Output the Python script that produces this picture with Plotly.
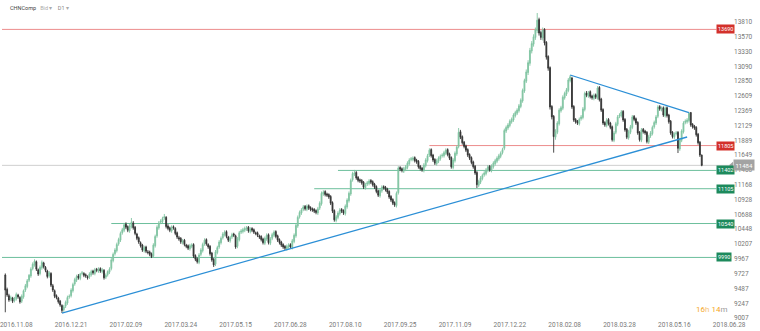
import plotly.graph_objects as go

# --- daily OHLC, CHNComp (D1) ---
opens = [
    9705, 9470, 9370, 9310, 9330, 9290, 9320, 9380, 9340, 9280,
    9350, 9460, 9520, 9620, 9690, 9810, 9870, 9920, 9790, 9730,
    9820, 9900, 9830, 9770, 9690, 9730, 9530, 9450, 9370, 9330,
    9280, 9210, 9140, 9200, 9250, 9350, 9370, 9450, 9560, 9620,
    9690, 9650, 9730, 9730, 9710, 9680, 9670, 9710, 9770, 9730,
    9800, 9770, 9810, 9760, 9780, 9670, 9710, 9750, 9810, 9940,
    10050, 10100, 10210, 10270, 10390, 10430, 10530, 10490, 10420, 10490,
    10550, 10480, 10370, 10310, 10230, 10190, 10100, 10160, 10080, 10080,
    10050, 10010, 10180, 10340, 10470, 10560, 10570, 10630, 10640, 10500,
    10470, 10420, 10490, 10460, 10390, 10310, 10300, 10230, 10270, 10190,
    10180, 10130, 10170, 10200, 10020, 9970, 9910, 10040, 10100, 10210,
    10280, 10200, 10170, 10060, 9960, 9880, 10070, 10160, 10230, 10310,
    10360, 10410, 10320, 10260, 10320, 10370, 10340, 10170, 10280, 10400,
    10410, 10430, 10450, 10480, 10410, 10460, 10440, 10390, 10390, 10340,
    10330, 10290, 10220, 10290, 10360, 10220, 10300, 10350, 10410, 10340,
    10280, 10240, 10200, 10170, 10130, 10160, 10200, 10150, 10250, 10340,
    10500, 10650, 10710, 10770, 10820, 10770, 10830, 10800, 10780, 10770,
    10750, 10710, 10790, 10860, 11020, 11060, 11020, 11010, 10980, 10880,
    10750, 10590, 10640, 10700, 10770, 10750, 10700, 10810, 10910, 11020,
    11250, 11340, 11370, 11290, 11250, 11240, 11210, 11120, 11180, 11190,
    11240, 11220, 11180, 11140, 11070, 10990, 11070, 11140, 11130, 11100,
    11060, 10980, 10930, 10880, 10830, 11040, 11450, 11430, 11390, 11420,
    11450, 11510, 11580, 11580, 11610, 11570, 11550, 11470, 11440, 11400,
    11480, 11560, 11650, 11740, 11650, 11580, 11510, 11550, 11590, 11640,
    11640, 11680, 11740, 11670, 11610, 11450, 11560, 11670, 11790, 12030,
    11950, 11860, 11800, 11740, 11660, 11610, 11540, 11470, 11370, 11160,
    11210, 11270, 11330, 11350, 11400, 11470, 11400, 11460, 11510, 11550,
    11590, 11630, 11690, 11760, 12040, 12090, 12130, 12190, 12220, 12290,
    12330, 12370, 12440, 12530, 12690, 12850, 12990, 13140, 13340, 13450,
    13560, 13670, 13850, 13640, 13550, 13690, 13480, 13250, 13070, 12440,
    12280, 11940, 12020, 12160, 12370, 12410, 12580, 12640, 12700, 12860,
    12900, 12440, 12230, 12200, 12160, 12240, 12260, 12390, 12660, 12610,
    12680, 12610, 12570, 12630, 12580, 12750, 12560, 12390, 12180, 12130,
    12230, 12170, 12110, 11890, 12020, 12150, 12280, 12290, 12360, 12230,
    12070, 11930, 12020, 12100, 12280, 12240, 12180, 12020, 11890, 12070,
    12040, 12020, 11860, 11960, 12000, 12110, 12170, 12280, 12440, 12390,
    12420, 12290, 12420, 12300, 12200, 12020, 11940, 12000, 12020, 11750,
    11890, 12030, 12180, 12190, 12210, 12340, 12150, 12120, 12100, 11990,
    11860, 11650,
]
highs = [
    9730, 9500, 9400, 9370, 9350, 9350, 9420, 9400, 9360, 9390,
    9470, 9560, 9640, 9720, 9830, 9910, 9960, 9940, 9810, 9860,
    9940, 9920, 9850, 9790, 9770, 9750, 9560, 9470, 9390, 9350,
    9300, 9230, 9220, 9290, 9370, 9390, 9490, 9580, 9660, 9710,
    9720, 9740, 9770, 9750, 9730, 9700, 9750, 9790, 9790, 9820,
    9820, 9830, 9830, 9820, 9800, 9730, 9780, 9830, 9980, 10070,
    10140, 10230, 10310, 10410, 10470, 10550, 10560, 10510, 10530, 10630,
    10580, 10500, 10390, 10330, 10250, 10210, 10180, 10180, 10110, 10100,
    10070, 10220, 10360, 10510, 10580, 10610, 10650, 10695, 10660, 10530,
    10490, 10510, 10510, 10480, 10410, 10340, 10320, 10290, 10290, 10210,
    10200, 10210, 10220, 10220, 10040, 9990, 10060, 10140, 10230, 10300,
    10300, 10220, 10190, 10080, 9980, 10110, 10180, 10270, 10330, 10400,
    10430, 10430, 10340, 10340, 10390, 10390, 10360, 10320, 10420, 10450,
    10470, 10490, 10500, 10500, 10480, 10480, 10460, 10410, 10410, 10360,
    10350, 10310, 10330, 10380, 10380, 10320, 10390, 10430, 10430, 10360,
    10300, 10260, 10220, 10190, 10200, 10220, 10220, 10290, 10380, 10540,
    10670, 10750, 10790, 10840, 10840, 10850, 10850, 10820, 10800, 10790,
    10770, 10810, 10900, 11060, 11080, 11080, 11040, 11030, 11000, 10900,
    10770, 10680, 10740, 10790, 10790, 10770, 10850, 10950, 11060, 11270,
    11380, 11410, 11390, 11310, 11270, 11260, 11230, 11200, 11230, 11260,
    11260, 11240, 11200, 11160, 11090, 11110, 11160, 11160, 11150, 11120,
    11080, 11000, 10950, 10900, 11060, 11470, 11470, 11450, 11460, 11490,
    11550, 11600, 11620, 11630, 11630, 11590, 11570, 11490, 11460, 11520,
    11600, 11670, 11760, 11760, 11670, 11600, 11590, 11630, 11660, 11680,
    11720, 11760, 11760, 11690, 11630, 11600, 11710, 11810, 12090, 12060,
    11970, 11880, 11820, 11760, 11680, 11630, 11560, 11490, 11390, 11250,
    11310, 11350, 11390, 11440, 11490, 11490, 11500, 11550, 11590, 11630,
    11670, 11710, 11770, 12080, 12130, 12170, 12230, 12260, 12330, 12370,
    12410, 12480, 12570, 12730, 12890, 13040, 13190, 13390, 13500, 13610,
    13720, 13956, 13880, 13670, 13720, 13710, 13500, 13270, 13090, 12460,
    12300, 12070, 12200, 12410, 12450, 12620, 12680, 12740, 12900, 12950,
    12920, 12460, 12250, 12220, 12260, 12300, 12430, 12680, 12690, 12690,
    12700, 12630, 12650, 12650, 12770, 12770, 12580, 12410, 12200, 12250,
    12250, 12190, 12130, 12040, 12190, 12300, 12330, 12380, 12380, 12250,
    12090, 12060, 12140, 12300, 12300, 12260, 12200, 12040, 12090, 12090,
    12060, 12040, 11980, 12040, 12130, 12210, 12300, 12460, 12460, 12440,
    12440, 12440, 12440, 12320, 12220, 12040, 12020, 12040, 12040, 11930,
    12070, 12200, 12230, 12250, 12350, 12350, 12170, 12140, 12120, 12010,
    11880, 11660,
]
lows = [
    9100, 9350, 9270, 9280, 9250, 9260, 9290, 9320, 9240, 9250,
    9320, 9430, 9490, 9590, 9660, 9780, 9840, 9770, 9690, 9700,
    9790, 9810, 9750, 9650, 9660, 9510, 9430, 9330, 9310, 9240,
    9190, 9088, 9110, 9170, 9220, 9320, 9340, 9420, 9530, 9590,
    9630, 9620, 9700, 9670, 9660, 9630, 9640, 9680, 9710, 9700,
    9750, 9740, 9740, 9730, 9630, 9640, 9680, 9720, 9780, 9910,
    10020, 10070, 10180, 10240, 10360, 10400, 10450, 10400, 10390, 10460,
    10440, 10350, 10270, 10210, 10150, 10080, 10070, 10060, 10040, 10010,
    9980, 9990, 10150, 10310, 10440, 10530, 10540, 10600, 10460, 10430,
    10400, 10390, 10440, 10350, 10290, 10260, 10210, 10200, 10170, 10140,
    10110, 10100, 10140, 9980, 9930, 9890, 9880, 10010, 10070, 10180,
    10180, 10130, 10020, 9920, 9835, 9850, 10040, 10130, 10200, 10280,
    10330, 10300, 10240, 10230, 10290, 10320, 10130, 10140, 10250, 10370,
    10380, 10400, 10420, 10390, 10380, 10400, 10370, 10350, 10320, 10290,
    10250, 10200, 10190, 10260, 10200, 10190, 10270, 10320, 10300, 10240,
    10200, 10160, 10130, 10110, 10100, 10130, 10130, 10120, 10220, 10310,
    10470, 10620, 10680, 10740, 10750, 10740, 10760, 10740, 10730, 10710,
    10690, 10680, 10760, 10830, 10990, 10980, 10970, 10940, 10840, 10710,
    10570, 10560, 10610, 10670, 10710, 10680, 10670, 10780, 10880, 10990,
    11220, 11310, 11250, 11210, 11200, 11170, 11100, 11090, 11150, 11160,
    11180, 11140, 11100, 11030, 10970, 10960, 11040, 11090, 11060, 11020,
    10940, 10890, 10840, 10810, 10800, 11010, 11390, 11370, 11360, 11390,
    11420, 11480, 11550, 11550, 11530, 11510, 11430, 11400, 11380, 11370,
    11450, 11530, 11620, 11610, 11540, 11490, 11480, 11520, 11560, 11610,
    11610, 11650, 11630, 11570, 11430, 11420, 11530, 11640, 11760, 11910,
    11820, 11760, 11700, 11620, 11570, 11500, 11430, 11330, 11117, 11130,
    11180, 11240, 11300, 11320, 11370, 11380, 11370, 11430, 11480, 11520,
    11560, 11600, 11660, 11730, 12010, 12060, 12100, 12160, 12190, 12260,
    12300, 12340, 12410, 12500, 12660, 12820, 12950, 13100, 13300, 13410,
    13520, 13630, 13590, 13520, 13510, 13430, 13200, 13020, 12390, 12230,
    11690, 11900, 11990, 12130, 12340, 12380, 12550, 12610, 12670, 12830,
    12400, 12190, 12160, 12140, 12130, 12210, 12230, 12360, 12590, 12580,
    12570, 12550, 12540, 12560, 12550, 12520, 12350, 12140, 12110, 12100,
    12130, 12070, 11870, 11860, 11990, 12120, 12250, 12260, 12190, 12030,
    11910, 11900, 11990, 12070, 12200, 12140, 11980, 11870, 11860, 12000,
    11980, 11840, 11830, 11930, 11970, 12080, 12140, 12250, 12370, 12360,
    12270, 12260, 12260, 12160, 11980, 11920, 11910, 11970, 11684, 11720,
    11860, 12000, 12150, 12160, 12180, 12110, 12080, 12060, 11950, 11820,
    11620, 11470,
]
closes = [
    9460, 9380, 9300, 9340, 9280, 9320, 9390, 9350, 9270, 9360,
    9450, 9530, 9610, 9700, 9800, 9880, 9930, 9800, 9720, 9830,
    9910, 9840, 9780, 9680, 9740, 9540, 9460, 9360, 9340, 9270,
    9220, 9130, 9190, 9260, 9340, 9360, 9460, 9550, 9630, 9680,
    9660, 9720, 9740, 9700, 9690, 9660, 9720, 9760, 9740, 9790,
    9780, 9800, 9770, 9790, 9660, 9700, 9760, 9800, 9950, 10040,
    10110, 10200, 10280, 10380, 10440, 10520, 10480, 10430, 10500, 10560,
    10470, 10380, 10300, 10240, 10180, 10110, 10150, 10090, 10070, 10040,
    10000, 10190, 10330, 10480, 10550, 10580, 10620, 10650, 10490, 10460,
    10430, 10480, 10470, 10380, 10320, 10290, 10240, 10260, 10200, 10170,
    10140, 10180, 10190, 10010, 9960, 9920, 10030, 10110, 10200, 10270,
    10210, 10160, 10050, 9950, 9870, 10080, 10150, 10240, 10300, 10370,
    10400, 10330, 10270, 10310, 10360, 10350, 10160, 10290, 10390, 10420,
    10440, 10460, 10470, 10420, 10450, 10430, 10400, 10380, 10350, 10320,
    10280, 10230, 10300, 10350, 10230, 10290, 10360, 10400, 10330, 10270,
    10230, 10190, 10160, 10140, 10170, 10190, 10160, 10260, 10350, 10510,
    10640, 10720, 10760, 10810, 10780, 10820, 10790, 10770, 10760, 10740,
    10720, 10780, 10870, 11030, 11050, 11010, 11000, 10970, 10870, 10740,
    10600, 10650, 10710, 10760, 10740, 10710, 10820, 10920, 11030, 11240,
    11350, 11360, 11280, 11240, 11230, 11200, 11130, 11170, 11200, 11230,
    11210, 11170, 11130, 11060, 11000, 11080, 11130, 11120, 11090, 11050,
    10970, 10920, 10870, 10840, 11030, 11440, 11420, 11400, 11430, 11460,
    11520, 11570, 11590, 11600, 11560, 11540, 11460, 11430, 11410, 11490,
    11570, 11640, 11730, 11640, 11570, 11520, 11560, 11600, 11630, 11650,
    11690, 11730, 11660, 11600, 11460, 11570, 11680, 11780, 12020, 11940,
    11850, 11790, 11730, 11650, 11600, 11530, 11460, 11360, 11170, 11220,
    11280, 11320, 11360, 11410, 11460, 11410, 11470, 11520, 11560, 11600,
    11640, 11680, 11740, 12050, 12100, 12140, 12200, 12230, 12300, 12340,
    12380, 12450, 12540, 12700, 12860, 13000, 13150, 13350, 13460, 13570,
    13680, 13840, 13630, 13560, 13680, 13470, 13240, 13060, 12430, 12270,
    11950, 12030, 12170, 12380, 12420, 12590, 12650, 12710, 12870, 12920,
    12430, 12220, 12190, 12170, 12230, 12270, 12400, 12650, 12620, 12660,
    12600, 12580, 12620, 12590, 12740, 12550, 12380, 12170, 12140, 12220,
    12160, 12100, 11900, 12010, 12160, 12270, 12300, 12350, 12220, 12060,
    11940, 12030, 12110, 12270, 12230, 12170, 12010, 11900, 12060, 12030,
    12010, 11870, 11950, 12010, 12100, 12180, 12270, 12430, 12400, 12410,
    12300, 12410, 12290, 12190, 12010, 11950, 11990, 12010, 11760, 11900,
    12040, 12170, 12200, 12220, 12330, 12140, 12110, 12090, 11980, 11850,
    11650, 11484,
]

# date labels along the time axis, one every 30 sessions
date_tick_bars = [6, 36, 66, 96, 126, 156, 186, 216, 246, 276, 306, 336, 366, 396]
date_tick_text = ["2016.11.08", "2016.12.21", "2017.02.09", "2017.03.24",
                  "2017.05.15", "2017.06.28", "2017.08.10", "2017.09.25",
                  "2017.11.09", "2017.12.22", "2018.02.08", "2018.03.28",
                  "2018.05.16", "2018.06.28"]

# price scale ticks
price_ticks = [13810, 13570, 13330, 13090, 12850, 12609, 12369, 12129, 11889,
               11649, 11408, 11168, 10928, 10688, 10448, 10207, 9967, 9727,
               9487, 9247, 9007]

# horizontal support / resistance levels: price, first bar, kind
level_prices = [13690, 11805, 11402, 11105, 10540, 9990]
level_from_bar = [-2, 232, 182, 169, 58, -2]
level_kinds = ["res", "res", "sup", "sup", "sup", "sup"]

# trend lines: (bar, price) end points
trend_up = [(31, 9088), (373, 11944)]
trend_down = [(309, 12950), (374, 12340)]

BULL = "#80c4a1"
BEAR = "#333333"
RES_LINE, RES_BOX = "#ec8c8c", "#d3312b"
SUP_LINE, SUP_BOX = "#6cbf9c", "#1d8a5c"
TREND = "#2b8fd6"
FONT = "Roboto"
LEVEL_END_BAR = 389

bars = list(range(len(closes)))

fig = go.Figure()
fig.add_trace(go.Candlestick(
    x=bars, open=opens, high=highs, low=lows, close=closes,
    increasing=dict(line=dict(color=BULL, width=0.9), fillcolor=BULL),
    decreasing=dict(line=dict(color=BEAR, width=0.9), fillcolor=BEAR),
    whiskerwidth=0, hoverinfo="skip", showlegend=False,
))

shapes = []
annotations = []

# last price line across the chart
last_price = closes[-1]
shapes.append(dict(type="line", xref="paper", yref="y", x0=0, x1=1,
                   y0=last_price, y1=last_price,
                   line=dict(color="#cfcfcf", width=1), layer="below"))

for price, start, kind in zip(level_prices, level_from_bar, level_kinds):
    line_col = RES_LINE if kind == "res" else SUP_LINE
    box_col = RES_BOX if kind == "res" else SUP_BOX
    shapes.append(dict(type="line", xref="x", yref="y", x0=start, x1=LEVEL_END_BAR,
                       y0=price, y1=price, line=dict(color=line_col, width=1),
                       layer="below"))
    annotations.append(dict(x=LEVEL_END_BAR, y=price, xref="x", yref="y",
                            text=str(price), showarrow=False, xanchor="left",
                            yanchor="middle", bgcolor=box_col, borderpad=1,
                            font=dict(family=FONT, size=5.5, color="white")))

for (b0, p0), (b1, p1) in (trend_up, trend_down):
    shapes.append(dict(type="line", xref="x", yref="y", x0=b0, y0=p0, x1=b1, y1=p1,
                       line=dict(color=TREND, width=1.3)))

# last price tag on the price scale
shapes.append(dict(type="path", xref="paper", yref="y", xsizemode="pixel",
                   ysizemode="pixel", xanchor=1, yanchor=last_price,
                   path="M -4 0 L 0 -3.5 L 0 3.5 Z",
                   fillcolor="#a3a3a3", line=dict(width=0)))
annotations.append(dict(x=1, y=last_price, xref="paper", yref="y",
                        text=str(last_price), showarrow=False, xanchor="left",
                        yanchor="middle", bgcolor="#a3a3a3", borderpad=1.5,
                        font=dict(family=FONT, size=6, color="white")))

# symbol header
annotations.append(dict(x=0.008, y=0.976, xref="paper", yref="paper",
                        xanchor="left", yanchor="middle", showarrow=False,
                        text="<span style='color:#444'>CHNComp</span>"
                             "   <span style='color:#aaa'>Bid ▾</span>"
                             "    <span style='color:#888'>D1</span>"
                             " <span style='color:#aaa'>▾</span>",
                        font=dict(family=FONT, size=5.5)))

# bar countdown
annotations.append(dict(x=0.97, y=0.03, xref="paper", yref="paper",
                        xanchor="center", yanchor="middle", showarrow=False,
                        text="<span style='color:#f5a623'>16</span>"
                             "<span style='color:#f7c77a'>h</span> "
                             "<span style='color:#f5a623'>14</span>"
                             "<span style='color:#999'>m</span>",
                        font=dict(family=FONT, size=8)))

fig.update_layout(
    width=760, height=331,
    margin=dict(l=0, r=27, t=0, b=12),
    paper_bgcolor="white", plot_bgcolor="white",
    shapes=shapes, annotations=annotations,
    showlegend=False,
    xaxis=dict(range=[-1.8, 398.1], rangeslider=dict(visible=False),
               showgrid=False, zeroline=False, showline=False,
               tickmode="array", tickvals=date_tick_bars, ticktext=date_tick_text,
               ticks="", ticklabeloverflow="allow",
               tickfont=dict(family=FONT, size=6.5, color="#777")),
    yaxis=dict(range=[8991, 14167], side="right", showgrid=False,
               zeroline=False, showline=False, tickmode="array",
               tickvals=price_ticks, ticktext=[str(t) for t in price_ticks],
               ticks="", ticklabeloverflow="allow",
               tickfont=dict(family=FONT, size=6.5, color="#777")),
)

fig.write_html("out.html")
